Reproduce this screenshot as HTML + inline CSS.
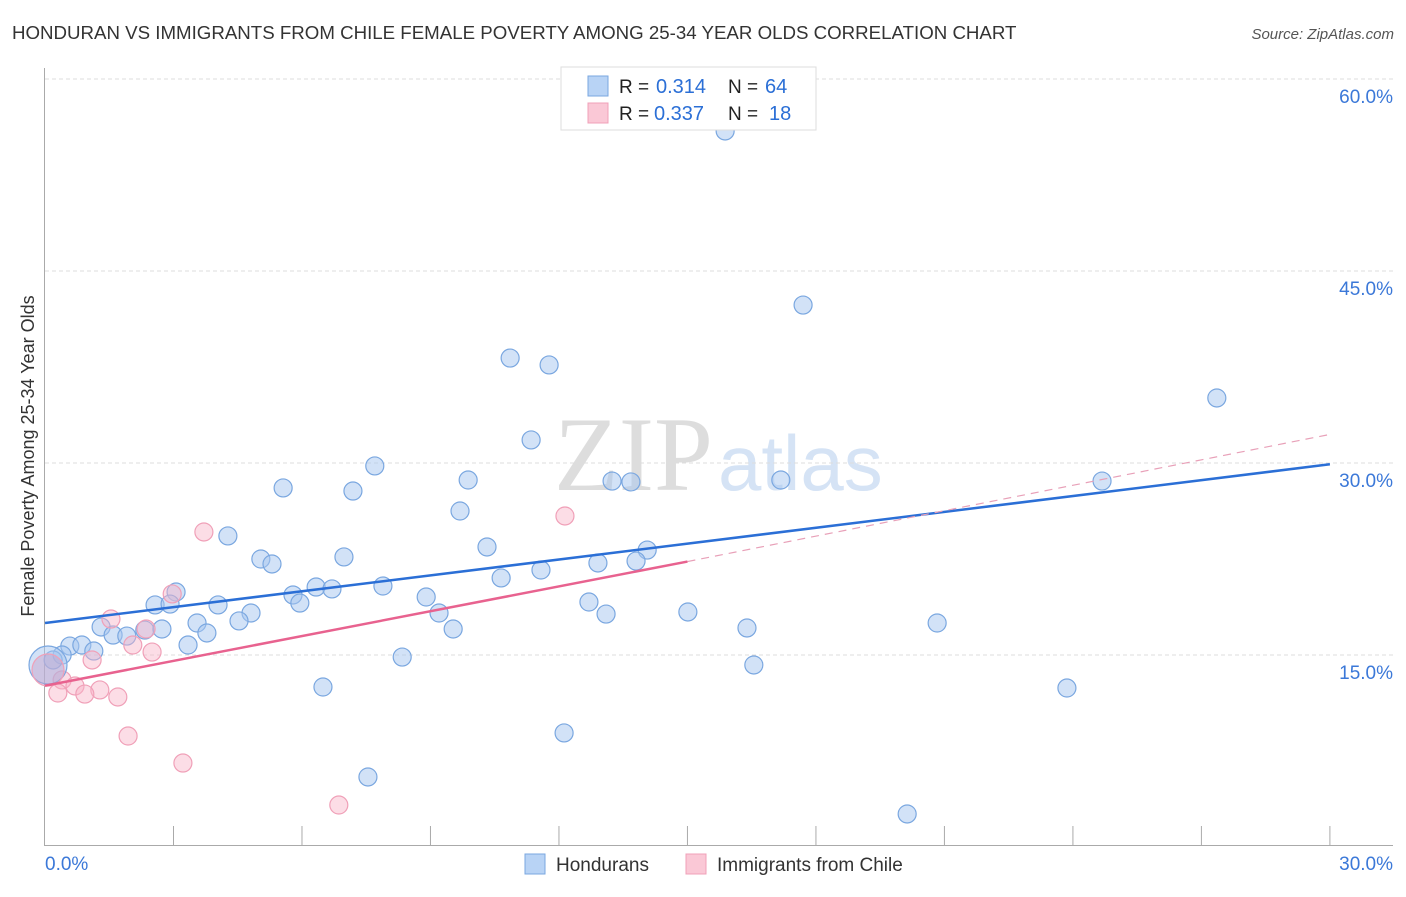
<!DOCTYPE html>
<html><head><meta charset="utf-8"><style>
body{margin:0;background:#fff;font-family:"Liberation Sans",sans-serif}
</style></head><body>
<svg id="c" width="1406" height="892" xmlns="http://www.w3.org/2000/svg" style="font-family:'Liberation Sans',sans-serif">
<text x="12" y="39" font-size="18.7" fill="#333">HONDURAN VS IMMIGRANTS FROM CHILE FEMALE POVERTY AMONG 25-34 YEAR OLDS CORRELATION CHART</text>
<text x="1394" y="39" font-size="15" fill="#555" font-style="italic" text-anchor="end">Source: ZipAtlas.com</text>
<text x="713" y="490" font-size="106" fill="#ddd" text-anchor="end" font-family="Liberation Serif">ZIP</text>
<text x="718" y="490" font-size="78" fill="#d5e3f5">atlas</text>
<g id="grid"></g>
<g id="axes"></g>
<g id="pts"></g>
<g id="lines"></g>
<text transform="translate(34,456) rotate(-90)" font-size="18" fill="#333" text-anchor="middle">Female Poverty Among 25-34 Year Olds</text>
<g>
<rect x="561" y="67" width="255" height="63" fill="#fff" stroke="#ddd"/>
<rect x="588" y="76" width="20" height="20" fill="#b8d3f5" stroke="#7aa7e0"/>
<rect x="588" y="103" width="20" height="20" fill="#fac8d6" stroke="#f0a0b8"/>
<text x="619" y="93" font-size="19" fill="#222">R =</text>
<text x="656" y="93" font-size="20" fill="#2b6fd6">0.314</text>
<text x="728" y="93" font-size="19" fill="#222">N =</text>
<text x="765" y="93" font-size="20" fill="#2b6fd6">64</text>
<text x="619" y="120" font-size="19" fill="#222">R =</text>
<text x="654" y="120" font-size="20" fill="#2b6fd6">0.337</text>
<text x="728" y="120" font-size="19" fill="#222">N =</text>
<text x="769" y="120" font-size="20" fill="#2b6fd6">18</text>
</g>
<g>
<rect x="525" y="854" width="20" height="20" fill="#b8d3f5" stroke="#7aa7e0"/>
<text x="556" y="871" font-size="19" fill="#333">Hondurans</text>
<rect x="686" y="854" width="20" height="20" fill="#fac8d6" stroke="#f0a0b8"/>
<text x="717" y="871" font-size="19" fill="#333">Immigrants from Chile</text>
</g>
</svg>
<script>
const yTicks=[15,30,45,60];
const yTickLabels=["15.0%","30.0%","45.0%","60.0%"];
const xTickLabels=["0.0%","30.0%"];
const bluePts=[[15.88,55.94],[17.70,42.34],[10.86,38.2],[11.77,37.66],[27.36,35.08],[11.35,31.8],[7.70,29.77],[9.88,28.67],[13.24,28.59],[13.68,28.52],[17.18,28.67],[24.68,28.59],[5.56,28.05],[7.19,27.81],[9.69,26.25],[4.27,24.30],[10.32,23.44],[14.06,23.20],[5.04,22.5],[6.98,22.66],[5.30,22.11],[12.91,22.19],[13.80,22.34],[11.58,21.64],[10.65,21.02],[7.89,20.39],[6.33,20.31],[6.70,20.16],[3.06,19.92],[5.79,19.69],[8.90,19.53],[2.57,18.91],[2.92,18.98],[4.04,18.91],[5.95,19.06],[12.70,19.14],[15.01,18.36],[13.10,18.20],[4.81,18.28],[9.20,18.28],[3.55,17.5],[4.53,17.66],[20.83,17.5],[1.31,17.19],[2.33,16.95],[3.78,16.72],[9.53,17.03],[16.39,17.11],[1.59,16.56],[1.91,16.48],[2.73,17.03],[0.58,15.70],[0.86,15.78],[3.34,15.78],[1.14,15.31],[0.40,15.0],[8.34,14.84],[0.19,14.61],[16.55,14.22],[6.49,12.5],[23.86,12.42],[12.12,8.91],[7.54,5.47],[20.13,2.58]];
const pinkPts=[[1.54,17.81],[2.97,19.77],[3.71,24.61],[12.14,25.86],[2.36,17.03],[2.05,15.78],[2.50,15.23],[1.10,14.61],[0.40,13.05],[0.70,12.58],[1.28,12.27],[0.93,11.95],[1.70,11.72],[0.30,12.03],[1.94,8.67],[3.22,6.56],[6.86,3.28]];
const blueBig=[0.07,14.22], pinkBig=[0.07,13.83];
const blueTrend=[[0,17.5],[30,29.9]];
const pinkTrend=[[0,12.6],[15,22.3]];
const pinkDash=[[15,22.3],[29.95,32.2]];
const X=v=>45+v*42.83, Y=v=>847-v*12.8;
const NS="http://www.w3.org/2000/svg";
function mk(tag,attrs,parent){const e=document.createElementNS(NS,tag);for(const k in attrs)e.setAttribute(k,attrs[k]);document.getElementById(parent).appendChild(e);return e;}
yTicks.forEach((t,i)=>{
 const l=mk('line',{x1:45,x2:1393,y1:Y(t),y2:Y(t),stroke:'#ddd','stroke-dasharray':'4,3'},'grid');
 
 
 const tx=mk('text',{x:1393,y:Y(t)+24,'font-size':19,fill:'#3b78d8','text-anchor':'end'},'grid');
 tx.textContent=yTickLabels[i];
 
 
});
const ya=mk('line',{x1:44.5,x2:44.5,y1:68,y2:846,stroke:'#aaa'},'axes');


const xa=mk('line',{x1:44,x2:1393,y1:845.5,y2:845.5,stroke:'#aaa'},'axes');


for(let i=1;i<=10;i++){
 const t=mk('line',{x1:X(i*3),x2:X(i*3),y1:826,y2:845,stroke:'#aaa'},'axes');
 
 
}
[['start',45],['end',1393]].forEach(([a,px],i)=>{
 const t=mk('text',{x:px,y:870,'font-size':19,fill:'#3b78d8','text-anchor':a},'axes');
 t.textContent=xTickLabels[i];
 
 
});
function dot(p,r,fill,stroke,name){
 const c=mk('circle',{cx:X(p[0]),cy:Y(p[1]),r:r,fill:fill,stroke:stroke,'stroke-width':1.2},'pts');
 
 
}
bluePts.forEach(p=>dot(p,9,'rgba(165,198,240,0.5)','#7aa7e0','honduran-point'));
pinkPts.forEach(p=>dot(p,9,'rgba(248,180,200,0.45)','#f0a0b8','chile-point'));
dot(blueBig,19,'rgba(165,198,240,0.5)','#7aa7e0','honduran-point-large');
dot(pinkBig,16,'rgba(200,160,200,0.45)','#f0a0b8','chile-point-large');
function line(s,col,w,dash,name){
 const l=mk('line',{x1:X(s[0][0]),y1:Y(s[0][1]),x2:X(s[1][0]),y2:Y(s[1][1]),stroke:col,'stroke-width':w},'lines');
 if(dash)l.setAttribute('stroke-dasharray',dash);
 
 
}
line(blueTrend,'#2b6fd6',2.5,null,'honduran-trend-line');
line(pinkTrend,'#e8628f',2.5,null,'chile-trend-line');
line(pinkDash,'#e8a0b8',1.2,'8,6','chile-trend-extension');
</script>
</body></html>
